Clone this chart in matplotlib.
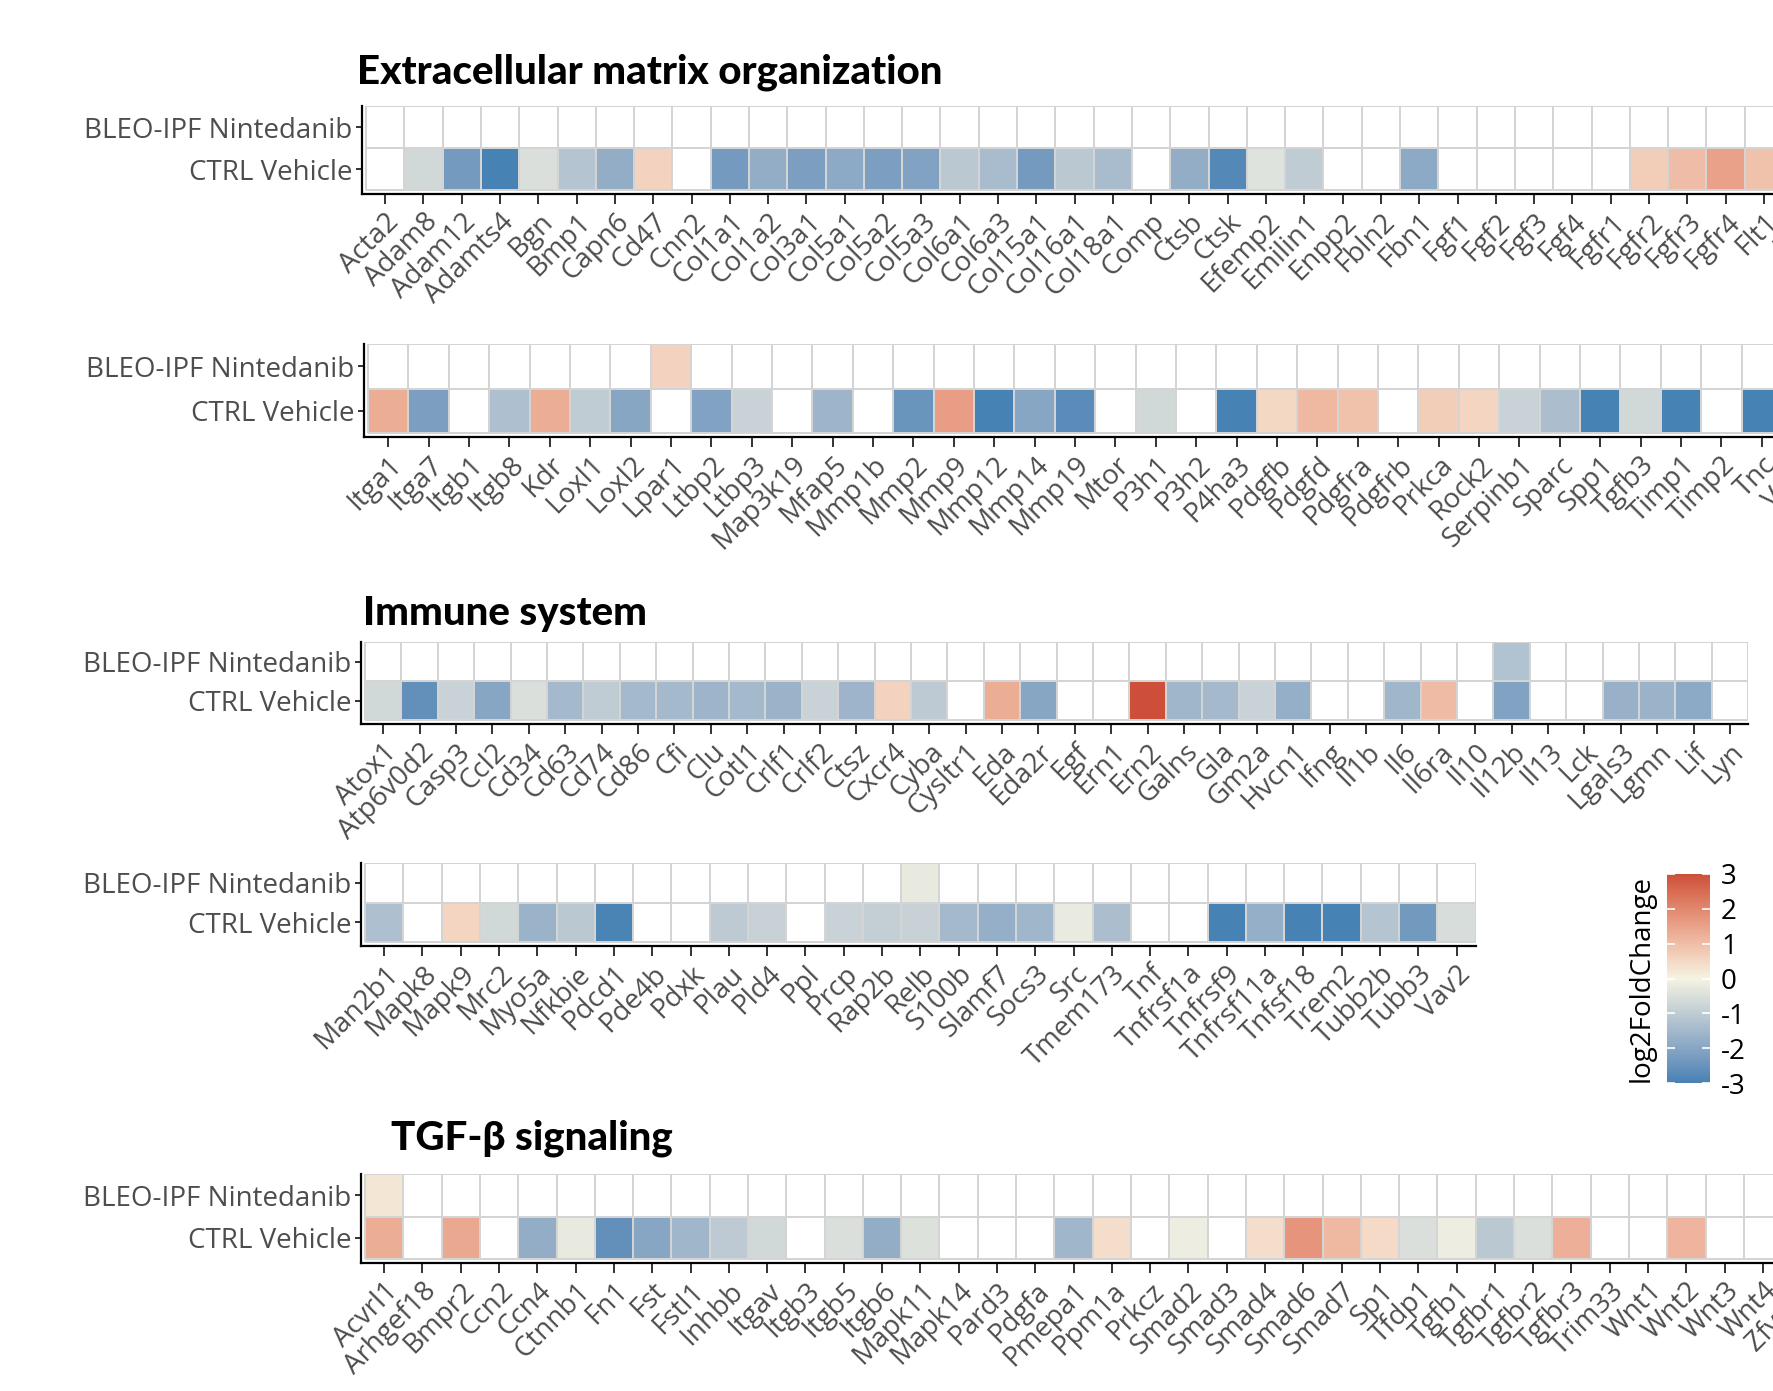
import numpy as np
import matplotlib
matplotlib.use("Agg")
import matplotlib.pyplot as plt
from matplotlib.colors import ListedColormap, Normalize
from matplotlib.cm import ScalarMappable

nan = np.nan
FAMILY = ["Open Sans", "DejaVu Sans"]
TITLE_FAMILY = ["Lato", "DejaVu Sans"]
plt.rcParams["font.family"] = FAMILY
plt.rcParams["axes.unicode_minus"] = False

conditions = ["CTRL Vehicle", "BLEO-IPF Nintedanib"]

# ---- Extracellular matrix organization (part 1) ----
ecm1_genes = ["Acta2", "Adam8", "Adam12", "Adamts4", "Bgn", "Bmp1", "Capn6", "Cd47", "Cnn2",
              "Col1a1", "Col1a2", "Col3a1", "Col5a1", "Col5a2", "Col5a3", "Col6a1", "Col6a3",
              "Col15a1", "Col16a1", "Col18a1", "Comp", "Ctsb", "Ctsk", "Efemp2", "Emilin1",
              "Enpp2", "Fbln2", "Fbn1", "Fgf1", "Fgf2", "Fgf3", "Fgf4", "Fgfr1", "Fgfr2",
              "Fgfr3", "Fgfr4", "Flt1", "Flt4"]
ecm1_vehicle = [nan, -0.7, -2.3, -3.0, -0.5, -1.2, -1.8, 0.6, nan, -2.3, -1.8, -2.2, -1.9, -2.2,
                -2.1, -1.1, -1.4, -2.3, -1.1, -1.4, nan, -1.8, -2.8, -0.4, -1.0, nan, nan, -1.9,
                nan, nan, nan, nan, nan, 0.7, 1.0, 1.5, 0.9, nan]
ecm1_ninted = [nan] * 38

# ---- Extracellular matrix organization (part 2) ----
ecm2_genes = ["Itga1", "Itga7", "Itgb1", "Itgb8", "Kdr", "Loxl1", "Loxl2", "Lpar1", "Ltbp2",
              "Ltbp3", "Map3k19", "Mfap5", "Mmp1b", "Mmp2", "Mmp9", "Mmp12", "Mmp14", "Mmp19",
              "Mtor", "P3h1", "P3h2", "P4ha3", "Pdgfb", "Pdgfd", "Pdgfra", "Pdgfrb", "Prkca",
              "Rock2", "Serpinb1", "Sparc", "Spp1", "Tgfb3", "Timp1", "Timp2", "Tnc", "Vcan"]
ecm2_vehicle = [1.3, -2.2, nan, -1.3, 1.3, -1.0, -2.0, nan, -2.1, -0.8, nan, -1.6, nan, -2.5,
                1.6, -3.0, -2.0, -2.7, nan, -0.7, nan, -3.0, 0.5, 1.1, 0.9, nan, 0.7, 0.55,
                -0.8, -1.35, -3.0, -0.7, -3.0, nan, -3.0, nan]
ecm2_ninted = [nan] * 7 + [0.6] + [nan] * 28

# ---- Immune system (part 1) ----
imm1_genes = ["Atox1", "Atp6v0d2", "Casp3", "Ccl2", "Cd34", "Cd63", "Cd74", "Cd86", "Cfi", "Clu",
              "Cotl1", "Crlf1", "Crlf2", "Ctsz", "Cxcr4", "Cyba", "Cysltr1", "Eda", "Eda2r",
              "Egf", "Ern1", "Ern2", "Galns", "Gla", "Gm2a", "Hvcn1", "Ifng", "Il1b", "Il6",
              "Il6ra", "Il10", "Il12b", "Il13", "Lck", "Lgals3", "Lgmn", "Lif", "Lyn"]
imm1_vehicle = [-0.7, -2.6, -0.8, -2.0, -0.5, -1.5, -1.0, -1.5, -1.5, -1.6, -1.5, -1.65, -0.8,
                -1.6, 0.6, -1.05, nan, 1.3, -2.0, nan, nan, 3.0, -1.55, -1.5, -0.8, -1.75, nan,
                nan, -1.55, 1.05, nan, -2.1, nan, nan, -1.7, -1.65, -1.9, nan]
imm1_ninted = [nan] * 31 + [-1.25] + [nan] * 6

# ---- Immune system (part 2) ----
imm2_genes = ["Man2b1", "Mapk8", "Mapk9", "Mrc2", "Myo5a", "Nfkbie", "Pdcd1", "Pde4b", "Pdxk",
              "Plau", "Pld4", "Ppl", "Prcp", "Rap2b", "Relb", "S100b", "Slamf7", "Socs3", "Src",
              "Tmem173", "Tnf", "Tnfrsf1a", "Tnfrsf9", "Tnfrsf11a", "Tnfsf18", "Trem2",
              "Tubb2b", "Tubb3", "Vav2"]
imm2_vehicle = [-1.3, nan, 0.55, -0.7, -1.65, -1.1, -2.95, nan, nan, -1.05, -0.85, nan, -0.8,
                -0.9, -0.85, -1.5, -1.75, -1.55, -0.2, -1.35, nan, nan, -3.0, -1.75, -3.0, -3.0,
                -1.2, -2.35, -0.55]
imm2_ninted = [nan] * 14 + [-0.25] + [nan] * 14

# ---- TGF-beta signaling ----
tgf_genes = ["Acvrl1", "Arhgef18", "Bmpr2", "Ccn2", "Ccn4", "Ctnnb1", "Fn1", "Fst", "Fstl1",
             "Inhbb", "Itgav", "Itgb3", "Itgb5", "Itgb6", "Mapk11", "Mapk14", "Pard3", "Pdgfa",
             "Pmepa1", "Ppm1a", "Prkcz", "Smad2", "Smad3", "Smad4", "Smad6", "Smad7", "Sp1",
             "Tfdp1", "Tgfb1", "Tgfbr1", "Tgfbr2", "Tgfbr3", "Trim33", "Wnt1", "Wnt2", "Wnt3",
             "Wnt4", "Zfyve9"]
tgf_vehicle = [1.3, nan, 1.4, nan, -1.8, -0.25, -2.6, -2.0, -1.55, -1.05, -0.7, nan, -0.5, -1.8,
               -0.45, nan, nan, nan, -1.55, 0.4, nan, -0.15, nan, 0.4, 1.75, 1.1, 0.45, -0.5,
               -0.15, -1.1, -0.5, 1.25, nan, nan, 1.15, nan, nan, nan]
tgf_ninted = [0.25] + [nan] * 37


# ---- diverging palette interpolated in CIELAB (low / mid / high) ----
def _hex(h):
    h = h.lstrip("#")
    return np.array([int(h[i:i + 2], 16) / 255 for i in (0, 2, 4)])

_M = np.array([[0.4124564, 0.3575761, 0.1804375],
               [0.2126729, 0.7151522, 0.0721750],
               [0.0193339, 0.1191920, 0.9503041]])
_WHITE = np.array([0.95047, 1.0, 1.08883])


def rgb2lab(c):
    lin = np.where(c <= 0.04045, c / 12.92, ((c + 0.055) / 1.055) ** 2.4)
    xyz = _M @ lin / _WHITE
    d = 6 / 29
    f = np.where(xyz > d ** 3, np.cbrt(xyz), xyz / (3 * d * d) + 4 / 29)
    return np.array([116 * f[1] - 16, 500 * (f[0] - f[1]), 200 * (f[1] - f[2])])


def lab2rgb(lab):
    L, a, b = lab
    fy = (L + 16) / 116
    fx = fy + a / 500
    fz = fy - b / 200
    d = 6 / 29
    f = np.array([fx, fy, fz])
    xyz = np.where(f > d, f ** 3, 3 * d * d * (f - 4 / 29)) * _WHITE
    lin = np.linalg.solve(_M, xyz)
    lin = np.clip(lin, 0, 1)
    c = np.where(lin <= 0.0031308, 12.92 * lin, 1.055 * lin ** (1 / 2.4) - 0.055)
    return np.clip(c, 0, 1)


low, mid, high = rgb2lab(_hex("#4682B4")), rgb2lab(_hex("#F5F3E3")), rgb2lab(_hex("#CD4F39"))
cols = []
for v in np.linspace(-1, 1, 256):
    end = low if v < 0 else high
    cols.append(lab2rgb(mid + abs(v) * (end - mid)))
cmap = ListedColormap(cols)
cmap.set_bad("white")
norm = Normalize(-3, 3)

W, H = 1773, 1391
fig = plt.figure(figsize=(W / 100, H / 100), dpi=100)

TXT = "#4D4D4D"
TICK_FS = 20
GRID = "#D4D4D4"


def panel(genes, vehicle, ninted, x0, cw, ytop, rh):
    n = len(genes)
    padl, padb = 4.5, 3.5
    wpx = padl + n * cw
    hpx = padb + 2 * rh
    ax = fig.add_axes([(x0 - padl) / W, 1 - (ytop + hpx) / H, wpx / W, hpx / H])
    data = np.ma.masked_invalid(np.array([vehicle, ninted], dtype=float))
    ax.pcolormesh(np.arange(n + 1) - 0.5, np.arange(3) - 0.5, data, cmap=cmap, norm=norm,
                  edgecolors=GRID, linewidth=1.1)
    ax.set_xlim(-0.5 - padl / cw, n - 0.5)
    ax.set_ylim(-0.5 - padb / rh, 1.5)
    ax.set_xticks(range(n))
    ax.set_xticklabels(genes, rotation=45, ha="right", va="top", rotation_mode="anchor",
                       fontsize=TICK_FS, color=TXT)
    ax.set_yticks([0, 1])
    ax.set_yticklabels(conditions, fontsize=TICK_FS, color=TXT)
    for s in ("top", "right"):
        ax.spines[s].set_visible(False)
    for s in ("left", "bottom"):
        ax.spines[s].set_linewidth(1.6)
        ax.spines[s].set_color("black")
    ax.tick_params(axis="x", length=7.5, width=1.4, color="#333333", pad=3)
    ax.tick_params(axis="y", length=4.5, width=1.4, color="#333333", pad=2)
    ax.set_facecolor("white")
    return ax


panel(ecm1_genes, ecm1_vehicle, ecm1_ninted, 366, 38.3, 106, 42)
panel(ecm2_genes, ecm2_vehicle, ecm2_ninted, 368, 40.4, 344, 44.5)
panel(imm1_genes, imm1_vehicle, imm1_ninted, 365, 36.4, 642, 39)
panel(imm2_genes, imm2_vehicle, imm2_ninted, 365, 38.3, 863, 39.5)
panel(tgf_genes, tgf_vehicle, tgf_ninted, 365, 38.3, 1174, 42.5)

TITLE_FS = 29
for x, y, label in [(357, 72, "Extracellular matrix organization"),
                    (363, 613, "Immune system"),
                    (391, 1138, "TGF-\u03b2 signaling")]:
    fig.text(x / W, 1 - y / H, label, fontsize=TITLE_FS, family=TITLE_FAMILY,
             fontweight="black", va="center", ha="left", color="black")

# colour bar
cax = fig.add_axes([1667 / W, 1 - 1083 / H, 43 / W, 209 / H])
cb = fig.colorbar(ScalarMappable(norm=norm, cmap=cmap), cax=cax, ticks=[-3, -2, -1, 0, 1, 2, 3])
cb.outline.set_visible(False)
cax.tick_params(axis="y", direction="in", color="white", length=6, width=1.2,
                left=True, right=True, labelsize=20, labelcolor="black", pad=8)
fig.text(1642 / W, 1 - 979 / H, "log2FoldChange", rotation=90, fontsize=20,
         va="center", ha="center", color="black")

fig.savefig("out.png", dpi=100, facecolor="white")
